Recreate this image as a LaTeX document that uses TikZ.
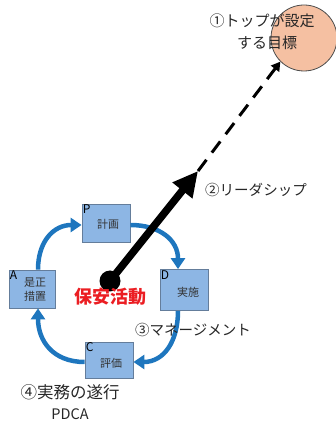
\documentclass[tikz,border=0pt]{standalone}
\usepackage{fontspec}
\setmainfont{Noto Sans CJK JP}
\usetikzlibrary{arrows.meta}
\definecolor{boxfill}{RGB}{141,182,228}
\definecolor{boxline}{RGB}{100,125,155}
\definecolor{cyc}{RGB}{30,118,190}
\definecolor{goal}{RGB}{245,192,162}
\definecolor{act}{RGB}{235,30,35}
\tikzset{
  pdcabox/.style={draw=boxline, line width=0.8pt, fill=boxfill, minimum width=48pt, minimum height=38pt, inner sep=0pt, font=\fontsize{11}{13}\selectfont, text=black!80},
  letter/.style={anchor=north west, inner sep=1pt, font=\fontsize{12}{12}\selectfont},
  cycarrow/.style={draw=cyc, line width=4.5pt, looseness=1.15, -{Triangle[length=11pt,width=14pt]}},
  lbl/.style={font=\fontsize{14.5}{16}\selectfont, inner sep=0pt, text=black!85},
}
\begin{document}
\begin{tikzpicture}[x=1pt,y=1pt]
\useasboundingbox (0,0) rectangle (335,423);
% goal circle
\node[circle, draw=black!70, line width=0.8pt, fill=goal, minimum size=66pt, inner sep=0pt] (goal) at (304,385) {};
\node[lbl, font=\fontsize{15}{22}\selectfont, align=center] (goaltxt) at (262,391) {①トップが設定\\\hspace*{10pt}する目標};
% boxes
\node[pdcabox] (P) at (106,200) {};
\node[pdcabox, minimum width=46pt] (A) at (32,134) {};
\node[pdcabox, minimum height=41pt] (D) at (184,133) {};
\node[pdcabox, minimum height=36pt] (C) at (109,63) {};
\node[letter] (Pl) at (P.north west) {P};
\node[letter] (Al) at (A.north west) {A};
\node[letter] (Dl) at (D.north west) {D};
\node[letter] (Cl) at (C.north west) {C};
\node[font=\fontsize{11}{13}\selectfont, text=black!80] (Pt) at ([xshift=2pt,yshift=-1pt]P.center) {計画};
\node[font=\fontsize{11}{14}\selectfont, text=black!80, align=center] (At) at ([xshift=3pt,yshift=-1pt]A.center) {是正\\措置};
\node[font=\fontsize{11}{13}\selectfont, text=black!80] (Dt) at ([xshift=4pt,yshift=-2pt]D.center) {実施};
\node[font=\fontsize{11}{13}\selectfont, text=black!80] (Ct) at ([xshift=2pt,yshift=-3pt]C.center) {評価};
% cycle arrows
\draw[cycarrow] ([yshift=-2pt]P.east) to[out=0,in=90] ([xshift=-6pt]D.north);
\draw[cycarrow] ([xshift=-6pt]D.south) to[out=-90,in=0] ([yshift=-2pt]C.east);
\draw[cycarrow] ([yshift=-2pt]C.west) to[out=180,in=-90] ([xshift=6pt]A.south);
\draw[cycarrow] ([xshift=6pt]A.north) to[out=90,in=180] ([yshift=-2pt]P.west);
% leadership arrow
\node[circle, fill=black, minimum size=21pt, inner sep=0pt] (dot) at (110,142) {};
\coordinate (tip) at (198,252);
\draw[line width=7.5pt, -{Triangle[length=25pt,width=24pt]}] (dot.center) -- (tip);
\draw[line width=3pt, dash pattern=on 14pt off 9pt, -{Triangle[length=9pt,width=10pt]}] (tip) -- (goal.225);
\node[font=\bfseries\fontsize{18}{20}\selectfont, text=act, inner sep=0pt] (act) at (110,126) {保安活動};
% labels
\node[lbl, anchor=west] (lead) at (205,233) {②リーダシップ};
\node[lbl, anchor=west] (mgmt) at (135,93) {③マネージメント};
\node[lbl, font=\fontsize{16.5}{18}\selectfont] (work) at (70,31) {④実務の遂行};
\node[lbl, font=\fontsize{14.5}{16}\selectfont] (pdca) at (70,9) {PDCA};
\end{tikzpicture}
\end{document}
